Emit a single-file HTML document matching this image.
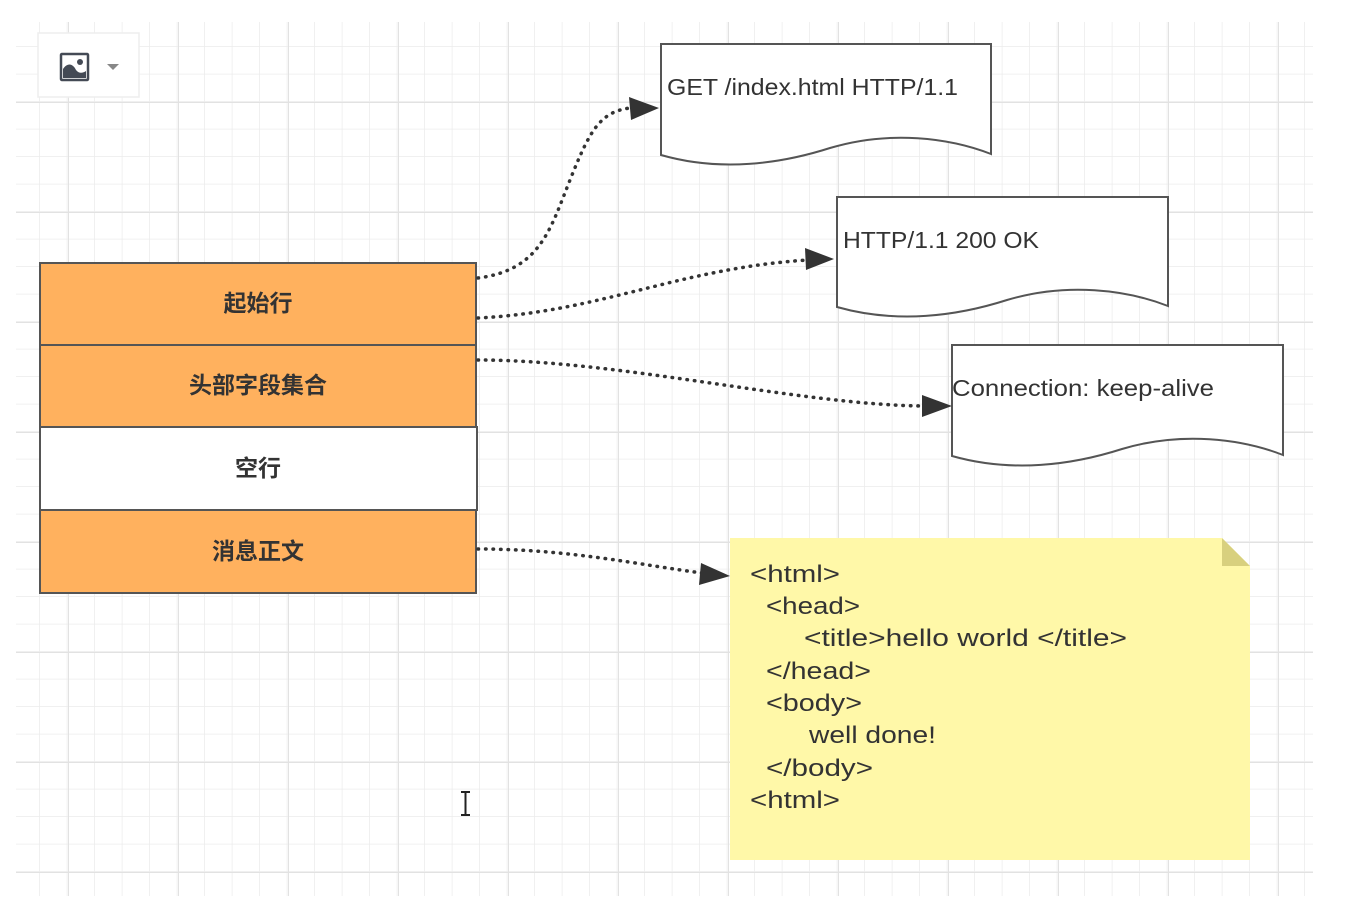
<!DOCTYPE html>
<html><head><meta charset="utf-8"><style>
body{margin:0;background:#fff;width:1354px;height:916px;overflow:hidden;font-family:"Liberation Sans","Noto Sans CJK SC",sans-serif}
</style></head><body>
<svg width="1354" height="916" xmlns="http://www.w3.org/2000/svg" style="position:absolute;left:0;top:0">
<defs>
<pattern id="minor" x="12.5" y="19.5" width="27.5" height="27.5" patternUnits="userSpaceOnUse">
<path d="M27.5 0V27.5M0 27.5H27.5" stroke="#ececec" stroke-width="1.5" fill="none"/>
</pattern>
<pattern id="major" x="68" y="102" width="110" height="110" patternUnits="userSpaceOnUse">
<path d="M0 0V110M0 0H110" stroke="#e2e2e2" stroke-width="2" fill="none"/>
</pattern>
</defs>
<rect x="16" y="22" width="1297" height="874" fill="url(#minor)"/>
<rect x="16" y="22" width="1297" height="874" fill="url(#major)"/>

<rect x="38" y="33" width="101" height="64" fill="#fff" stroke="#eee" stroke-width="1.5"/>
<rect x="61" y="54" width="27" height="26" fill="#fff" stroke="#444a55" stroke-width="2.5" rx="1"/>
<path d="M63 78 V69 C68 62 73 64 76 70 C79 74 83 73 86 71 V78 Z" fill="#444a55"/>
<circle cx="80" cy="62" r="3" fill="#444a55"/>
<path d="M107 64 H119 L113 70 Z" fill="#888"/>

<rect x="40" y="263" width="436" height="82" fill="#ffb15e" stroke="#555" stroke-width="2"/>
<rect x="40" y="345" width="436" height="82" fill="#ffb15e" stroke="#555" stroke-width="2"/>
<rect x="40" y="427" width="437" height="83" fill="#fff" stroke="#555" stroke-width="2"/>
<rect x="40" y="510" width="436" height="83" fill="#ffb15e" stroke="#555" stroke-width="2"/>
<g font-family="'Liberation Sans','Noto Sans CJK SC',sans-serif" font-size="23" font-weight="bold" fill="#333" text-anchor="middle">
<text x="258" y="311">起始行</text>
<text x="258" y="393">头部字段集合</text>
<text x="258" y="476">空行</text>
<text x="258" y="559">消息正文</text>
</g>

<g fill="#fff" stroke="#555" stroke-width="2">
<path d="M661 44 H991 V154 C950 138 890 130 830 148 C780 164 720 172 661 155 Z"/>
<path d="M837 197 H1168 V306 C1127 290 1067 282 1007 300 C957 316 897 324 837 307 Z"/>
<path d="M952 345 H1283 V455 C1242 439 1182 431 1122 449 C1072 465 1012 473 952 456 Z"/>
</g>
<g font-family="'Liberation Sans','Noto Sans CJK SC',sans-serif" font-size="23" fill="#333">
<text x="667" y="95" textLength="291" lengthAdjust="spacingAndGlyphs">GET /index.html HTTP/1.1</text>
<text x="843" y="248" textLength="196" lengthAdjust="spacingAndGlyphs">HTTP/1.1 200 OK</text>
<text x="952" y="396" textLength="262" lengthAdjust="spacingAndGlyphs">Connection: keep-alive</text>
</g>

<path d="M730 538 H1222 L1250 566 V860 H730 Z" fill="#fff8a8"/>
<path d="M1222 538 L1250 566 H1222 Z" fill="#d8d07e"/>
<g font-family="'Liberation Sans','Noto Sans CJK SC',sans-serif" font-size="24" fill="#333" lengthAdjust="spacingAndGlyphs">
<text x="750" y="582" textLength="90" lengthAdjust="spacingAndGlyphs">&lt;html&gt;</text>
<text x="766" y="614" textLength="94" lengthAdjust="spacingAndGlyphs">&lt;head&gt;</text>
<text x="804" y="646" textLength="323" lengthAdjust="spacingAndGlyphs">&lt;title&gt;hello world &lt;/title&gt;</text>
<text x="766" y="679" textLength="105" lengthAdjust="spacingAndGlyphs">&lt;/head&gt;</text>
<text x="766" y="711" textLength="96" lengthAdjust="spacingAndGlyphs">&lt;body&gt;</text>
<text x="809" y="743" textLength="127" lengthAdjust="spacingAndGlyphs">well done!</text>
<text x="766" y="776" textLength="107" lengthAdjust="spacingAndGlyphs">&lt;/body&gt;</text>
<text x="750" y="808" textLength="90" lengthAdjust="spacingAndGlyphs">&lt;html&gt;</text>
</g>

<g fill="none" stroke="#333" stroke-width="3.5" stroke-linecap="round" stroke-dasharray="0.5 7">
<path d="M478 278 C540 270 550 230 570 180 C590 130 600 112 630 108"/>
<path d="M478 318 C600 312 680 268 808 260"/>
<path d="M478 360 C620 360 800 405 924 406"/>
<path d="M478 549 C570 549 640 565 702 573"/>
</g>
<g fill="#333">
<path d="M659 108 L629 97 L631 120 Z"/>
<path d="M834 259 L805 248 L806 270 Z"/>
<path d="M952 406 L922 395 L922 417 Z"/>
<path d="M730 576 L701 563 L699 585 Z"/>
</g>

<path d="M461 792 H470 M465.5 792 V815 M461 815 H470" stroke="#222" stroke-width="2" fill="none"/>
</svg>
</body></html>
